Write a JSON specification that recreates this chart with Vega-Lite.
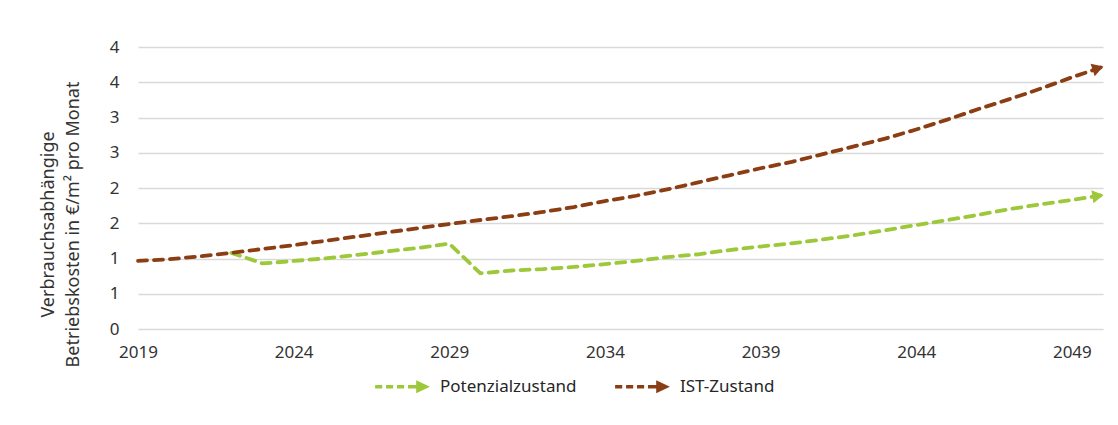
{
  "$schema": "https://vega.github.io/schema/vega-lite/v6.json",
  "width": 965,
  "height": 282,
  "autosize": {"type": "none"},
  "padding": {"left": 138, "top": 47, "right": 15, "bottom": 96},
  "background": "white",
  "config": {
    "view": {"stroke": null},
    "font": "Noto Sans",
    "axis": {"labelFont": "Noto Sans", "titleFont": "Noto Sans", "labelColor": "#333333", "titleColor": "#333333"},
    "legend": {"labelFont": "Noto Sans"}
  },
  "data": {
    "values": [
      {"year": 2022, "series": "Potenzialzustand", "value": 1.08},
      {"year": 2023, "series": "Potenzialzustand", "value": 0.93},
      {"year": 2024, "series": "Potenzialzustand", "value": 0.965},
      {"year": 2025, "series": "Potenzialzustand", "value": 1.0},
      {"year": 2026, "series": "Potenzialzustand", "value": 1.05},
      {"year": 2027, "series": "Potenzialzustand", "value": 1.1},
      {"year": 2028, "series": "Potenzialzustand", "value": 1.15},
      {"year": 2029, "series": "Potenzialzustand", "value": 1.21},
      {"year": 2030, "series": "Potenzialzustand", "value": 0.79},
      {"year": 2031, "series": "Potenzialzustand", "value": 0.83},
      {"year": 2032, "series": "Potenzialzustand", "value": 0.85},
      {"year": 2033, "series": "Potenzialzustand", "value": 0.88},
      {"year": 2034, "series": "Potenzialzustand", "value": 0.92},
      {"year": 2035, "series": "Potenzialzustand", "value": 0.965},
      {"year": 2036, "series": "Potenzialzustand", "value": 1.02},
      {"year": 2037, "series": "Potenzialzustand", "value": 1.06},
      {"year": 2038, "series": "Potenzialzustand", "value": 1.12},
      {"year": 2039, "series": "Potenzialzustand", "value": 1.17},
      {"year": 2040, "series": "Potenzialzustand", "value": 1.215},
      {"year": 2041, "series": "Potenzialzustand", "value": 1.27},
      {"year": 2042, "series": "Potenzialzustand", "value": 1.33},
      {"year": 2043, "series": "Potenzialzustand", "value": 1.4},
      {"year": 2044, "series": "Potenzialzustand", "value": 1.475},
      {"year": 2045, "series": "Potenzialzustand", "value": 1.545},
      {"year": 2046, "series": "Potenzialzustand", "value": 1.62},
      {"year": 2047, "series": "Potenzialzustand", "value": 1.7},
      {"year": 2048, "series": "Potenzialzustand", "value": 1.77},
      {"year": 2049, "series": "Potenzialzustand", "value": 1.83},
      {"year": 2050, "series": "Potenzialzustand", "value": 1.9},
      {"year": 2019, "series": "IST-Zustand", "value": 0.965},
      {"year": 2020, "series": "IST-Zustand", "value": 0.99},
      {"year": 2021, "series": "IST-Zustand", "value": 1.03},
      {"year": 2022, "series": "IST-Zustand", "value": 1.08},
      {"year": 2023, "series": "IST-Zustand", "value": 1.135},
      {"year": 2024, "series": "IST-Zustand", "value": 1.19},
      {"year": 2025, "series": "IST-Zustand", "value": 1.25},
      {"year": 2026, "series": "IST-Zustand", "value": 1.31},
      {"year": 2027, "series": "IST-Zustand", "value": 1.37},
      {"year": 2028, "series": "IST-Zustand", "value": 1.43},
      {"year": 2029, "series": "IST-Zustand", "value": 1.49},
      {"year": 2030, "series": "IST-Zustand", "value": 1.546},
      {"year": 2031, "series": "IST-Zustand", "value": 1.6},
      {"year": 2032, "series": "IST-Zustand", "value": 1.66},
      {"year": 2033, "series": "IST-Zustand", "value": 1.73},
      {"year": 2034, "series": "IST-Zustand", "value": 1.815},
      {"year": 2035, "series": "IST-Zustand", "value": 1.89},
      {"year": 2036, "series": "IST-Zustand", "value": 1.98},
      {"year": 2037, "series": "IST-Zustand", "value": 2.08},
      {"year": 2038, "series": "IST-Zustand", "value": 2.18},
      {"year": 2039, "series": "IST-Zustand", "value": 2.28},
      {"year": 2040, "series": "IST-Zustand", "value": 2.37},
      {"year": 2041, "series": "IST-Zustand", "value": 2.48},
      {"year": 2042, "series": "IST-Zustand", "value": 2.59},
      {"year": 2043, "series": "IST-Zustand", "value": 2.7},
      {"year": 2044, "series": "IST-Zustand", "value": 2.83},
      {"year": 2045, "series": "IST-Zustand", "value": 2.97},
      {"year": 2046, "series": "IST-Zustand", "value": 3.12},
      {"year": 2047, "series": "IST-Zustand", "value": 3.26},
      {"year": 2048, "series": "IST-Zustand", "value": 3.41},
      {"year": 2049, "series": "IST-Zustand", "value": 3.57},
      {"year": 2050, "series": "IST-Zustand", "value": 3.72}
    ]
  },
  "encoding": {
    "x": {
      "field": "year", "type": "quantitative",
      "scale": {"domain": [2019, 2050], "nice": false, "zero": false},
      "axis": {
        "title": null, "values": [2019, 2024, 2029, 2034, 2039, 2044, 2049], "format": "d",
        "grid": false, "domain": false, "ticks": false,
        "labelFontSize": 17, "labelPadding": 15, "labelFlush": false
      }
    },
    "y": {
      "field": "value", "type": "quantitative",
      "scale": {"domain": [0, 4], "nice": false},
      "axis": {
        "title": ["Verbrauchsabhängige", "Betriebskosten in €/m² pro Monat"],
        "values": [0, 0.5, 1, 1.5, 2, 2.5, 3, 3.5, 4], "format": ".0f",
        "domain": false, "ticks": false, "grid": true,
        "gridColor": "#d9d9d9", "gridWidth": 1.6,
        "labelFontSize": 17, "labelPadding": 19,
        "titleFontSize": 18, "titleFontWeight": "normal", "titleLineHeight": 25,
        "titlePadding": 27, "titleY": 177
      }
    }
  },
  "layer": [
    {
      "mark": {"type": "line", "strokeWidth": 3.8, "strokeDash": [9, 7], "strokeCap": "round"},
      "encoding": {
        "color": {
          "field": "series", "type": "nominal",
          "scale": {"domain": ["Potenzialzustand", "IST-Zustand"], "range": ["#9cc83a", "#8b3e14"]},
          "legend": {
            "title": null, "orient": "none", "direction": "horizontal",
            "legendX": 237, "legendY": 312, "padding": 0,
            "symbolType": "M-1,-0.06H-0.74V0.06H-1Z M-0.6,-0.06H-0.34V0.06H-0.6Z M-0.2,-0.06H0.06V0.06H-0.2Z M0.2,-0.06H0.6V0.06H0.2Z M0.5,-0.24L1,0L0.5,0.24Z",
            "symbolSize": 3000, "symbolStrokeWidth": 0,
            "labelFontSize": 17, "labelColor": "#262626", "labelOffset": 10,
            "columnPadding": 38,
            "encode": {"symbols": {"update": {"fill": {"scale": "color", "field": "value"}, "strokeWidth": {"value": 0}, "opacity": {"value": 1}}}}
          }
        }
      }
    },
    {
      "transform": [{"filter": "datum.series == 'IST-Zustand' && datum.year == 2050"}],
      "mark": {"type": "point", "shape": "triangle-right", "filled": true, "opacity": 1, "size": 170, "angle": -18, "color": "#8b3e14", "xOffset": -5, "yOffset": 1.5}
    },
    {
      "transform": [{"filter": "datum.series == 'Potenzialzustand' && datum.year == 2050"}],
      "mark": {"type": "point", "shape": "triangle-right", "filled": true, "opacity": 1, "size": 170, "angle": -9, "color": "#9cc83a", "xOffset": -5, "yOffset": 0.8}
    }
  ]
}
